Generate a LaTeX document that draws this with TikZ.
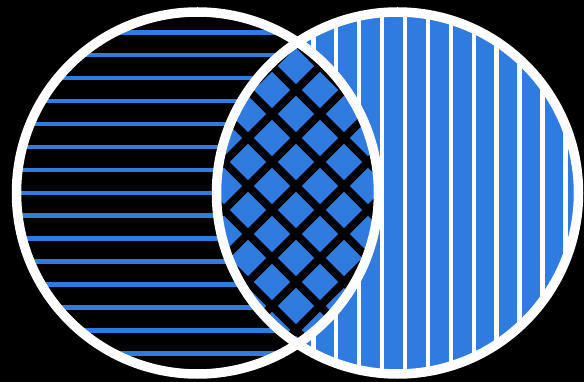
\documentclass[tikz,border=0pt]{standalone}
\definecolor{vblue}{RGB}{47,123,224}
\tikzset{
  hstripe/.style={draw=vblue,line width=4.5pt},
  vstripe/.style={draw=white,line width=4.5pt},
  xline/.style={draw=black,line width=8pt},
  ring/.style={draw=white,line width=9.5pt}
}
\begin{document}
\begin{tikzpicture}[x=1pt,y=-1pt]
\fill[black] (0,0) rectangle (584,382);
\useasboundingbox (0,0) rectangle (584,382);
\coordinate (cl) at (197.5,193);
\coordinate (cr) at (397.5,193);
\def\R{181pt}
% left circle: horizontal stripes
\begin{scope}
  \clip (cl) circle[radius=\R];
  \foreach \k in {-1,...,15} \draw[hstripe] (0,32.3+22.93*\k) -- (584,32.3+22.93*\k);
\end{scope}
% right circle: blue with white vertical stripes
\fill[vblue] (cr) circle[radius=\R];
\begin{scope}
  \clip (cr) circle[radius=\R];
  \foreach \k in {-5,...,12} \draw[vstripe] (313.3+22.93*\k,0) -- (313.3+22.93*\k,382);
\end{scope}
% intersection: crosshatch
\begin{scope}
  \clip (cl) circle[radius=\R];
  \clip (cr) circle[radius=\R];
  \fill[vblue] (0,0) rectangle (584,382);
  \foreach \k in {-7,...,7} {
    \draw[xline] (110+48*\k,0) -- ++(400,400);
    \draw[xline] (482+48*\k,0) -- ++(-400,400);
  }
\end{scope}
\draw[ring] (cl) circle[radius=\R];
\draw[ring] (cr) circle[radius=\R];
\end{tikzpicture}
\end{document}
